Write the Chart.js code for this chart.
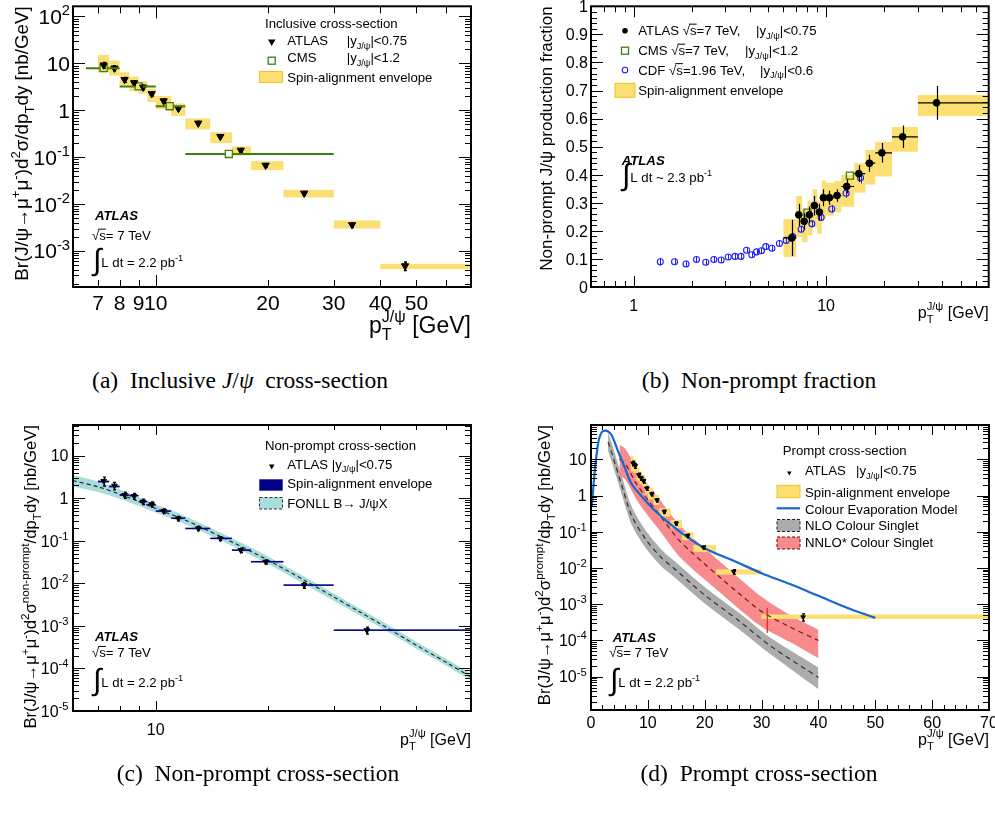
<!DOCTYPE html>
<html><head><meta charset="utf-8">
<script src="https://cdn.jsdelivr.net/npm/chart.js@4.4.1/dist/chart.umd.min.js"></script>
<style>
body{margin:0;background:#fff;width:995px;height:822px;position:relative;overflow:hidden}
canvas{position:absolute}
.cap{position:absolute;font-family:'Liberation Serif','Times New Roman',serif;font-size:23.5px;color:#000;white-space:nowrap;transform:translateX(-50%);line-height:28px}
</style></head><body>
<canvas id="ca" style="left:0;top:0" width="495" height="350"></canvas>
<canvas id="cb" style="left:495px;top:0" width="500" height="350"></canvas>
<canvas id="cc" style="left:0;top:400px" width="495" height="360"></canvas>
<canvas id="cd" style="left:495px;top:400px" width="500" height="360"></canvas>
<div class="cap" style="left:240px;top:366px">(a)&nbsp; Inclusive <i>J</i>/<i>ψ</i>&nbsp; cross-section</div>
<div class="cap" style="left:759px;top:366px">(b)&nbsp; Non-prompt fraction</div>
<div class="cap" style="left:258px;top:759px">(c)&nbsp; Non-prompt cross-section</div>
<div class="cap" style="left:759px;top:759px">(d)&nbsp; Prompt cross-section</div>
<script>
// ---------------- DATA ----------------
// (a) inclusive cross-section
const A_binLo = [7,7.5,8,8.5,9,9.5,10,11,12,14,16,18,22,30,40];
const A_binHi = [7.5,8,8.5,9,9.5,10,11,12,14,16,18,22,30,40,70];
const A_pt = [7.25,7.75,8.25,8.75,9.25,9.75,10.5,11.5,13,14.9,16.9,19.7,25,33.6,46.6];
const A_xs = [9.2,7.9,4.5,3.85,3.1,2.25,1.58,1.09,0.53,0.275,0.14,0.067,0.017,0.0036,0.00048];
const A_err = [1.3,1.0,0.55,0.45,0.35,0.25,0.17,0.11,0.05,0.025,0.013,0.006,0.0016,0.0004,0.0001];
const A_envLo = [6.46,5.5,3.39,2.54,2.25,1.51,1.06,0.76,0.39,0.2,0.108,0.053,0.0138,0.003,0.00041];
const A_envHi = [15.2,11.4,6.46,5.25,4.12,2.88,2.02,1.39,0.67,0.34,0.17,0.082,0.0201,0.00447,0.00053];
const A_cmsPt = [7.25,9.0,10.9,15.7];
const A_cmsLo = [6.5,8,10,12];
const A_cmsHi = [8,10,12,30];
const A_cmsXs = [7.9,3.23,1.22,0.117];
const A_xLabels = [7,8,9,10,20,30,40,50];
const A_yExp = [-3,-2,-1,0,1,2];
// (b) non-prompt fraction
const B_lo = [6,7,7.5,8,8.5,9,9.5,10,11,12,14,16,18,22,30];
const B_hi = [7,7.5,8,8.5,9,9.5,10,11,12,14,16,18,22,30,70];
const B_pt = [6.63,7.21,7.69,8.19,8.69,9.23,9.68,10.4,11.4,12.8,14.8,16.8,19.5,25,37.5];
const B_frac = [0.175,0.257,0.234,0.257,0.29,0.267,0.318,0.318,0.326,0.358,0.404,0.441,0.478,0.535,0.656];
const B_err = [0.065,0.04,0.03,0.03,0.035,0.03,0.03,0.025,0.022,0.025,0.03,0.03,0.035,0.04,0.06];
const B_envLo = [0.107,0.178,0.16,0.184,0.213,0.19,0.242,0.254,0.266,0.286,0.336,0.365,0.394,0.482,0.609];
const B_envHi = [0.242,0.324,0.277,0.307,0.348,0.307,0.379,0.371,0.377,0.40,0.441,0.488,0.517,0.57,0.684];
const B_cmsPt = [8.0,13.3];
const B_cmsFrac = [0.265,0.397];
const B_cdfPt = [1.375,1.63,1.87,2.12,2.37,2.61,2.85,3.1,3.36,3.61,3.86,4.11,4.35,4.61,4.86,5.23,5.72,6.2,6.71,7.42,8.43,9.42,10.7,12.7,15.1];
const B_cdfFrac = [0.09,0.09,0.082,0.098,0.088,0.098,0.096,0.107,0.109,0.109,0.131,0.115,0.125,0.129,0.144,0.138,0.155,0.166,0.18,0.206,0.225,0.248,0.278,0.334,0.389];
const B_cdfErr = [0.014,0.012,0.012,0.012,0.011,0.011,0.01,0.01,0.01,0.01,0.01,0.01,0.01,0.01,0.01,0.01,0.01,0.01,0.011,0.012,0.012,0.013,0.014,0.016,0.02];
const B_xLabels = [1,10];
const B_yLabels = ['0','0.1','0.2','0.3','0.4','0.5','0.6','0.7','0.8','0.9','1'];
// (c) non-prompt cross-section
const C_lo = [7,7.5,8,8.5,9,9.5,10,11,12,14,16,18,22,30];
const C_hi = [7.5,8,8.5,9,9.5,10,11,12,14,16,18,22,30,70];
const C_pt = [7.25,7.75,8.25,8.75,9.25,9.75,10.5,11.5,13,14.9,16.9,19.7,25,36.8];
const C_xs = [2.54,1.97,1.19,1.12,0.83,0.72,0.5,0.335,0.195,0.113,0.06,0.032,0.0091,0.00079];
const C_err = [0.6,0.4,0.2,0.18,0.12,0.1,0.06,0.04,0.022,0.012,0.007,0.0035,0.0015,0.00015];
const C_envLo = [2.35,1.8,1.14,1.1,0.8,0.67,0.485,0.33,0.19,0.111,0.059,0.0315,0.0089,0.00078];
const C_envHi = [2.6,2.0,1.24,1.2,0.87,0.74,0.515,0.35,0.2,0.117,0.062,0.033,0.0093,0.00081];
const C_fonllPt = [6,7,8,10,12,15,20,25,30,35,40,50,60,70];
const C_fonll = [2.6,1.86,1.25,0.575,0.306,0.124,0.035,0.0119,0.0048,0.0022,0.00112,0.00035,0.00014,0.000063];
const C_fonllHi = [3.5,2.45,1.6,0.72,0.38,0.152,0.043,0.0145,0.0058,0.00265,0.00135,0.00042,0.000168,0.000075];
const C_fonllLo = [1.9,1.4,0.97,0.46,0.245,0.1,0.0285,0.0097,0.0039,0.00182,0.00093,0.00029,0.000117,0.000052];
const C_xLabels = [10];
const C_yExp = [-5,-4,-3,-2,-1,0,1];
// (d) prompt cross-section
const D_lo = [7,7.5,8,8.5,9,9.5,10,11,12,14,16,18,22,30];
const D_hi = [7.5,8,8.5,9,9.5,10,11,12,14,16,18,22,30,70];
const D_pt = [7.4,7.8,8.4,8.85,9.26,9.84,10.7,11.6,12.9,15,17,19.8,25.1,37.3];
const D_xs = [7.8,6.6,3.7,3.0,2.5,1.58,1.1,0.75,0.36,0.17,0.078,0.037,0.0079,0.00044];
const D_err = [1.2,1.0,0.5,0.4,0.3,0.2,0.13,0.08,0.04,0.018,0.008,0.004,0.0012,0.0001];
const D_envLo = [4.6,4.2,2.5,2.1,1.8,1.05,0.78,0.55,0.26,0.124,0.059,0.028,0.0066,0.00039];
const D_envHi = [12.4,10,5.8,4.6,3.7,2.3,1.6,1.05,0.45,0.21,0.098,0.043,0.0092,0.00052];
const D_cemPt = [0.15,0.6,1.3,2.5,3.6,4.8,6,7,9,11,14,17,20,25,30,35,40,45,50];
const D_cem = [0.5,3.7,30,62,47,16,5.6,2.3,0.93,0.42,0.16,0.07,0.035,0.016,0.0072,0.0036,0.0017,0.0008,0.00042];
const D_nloPt = [3,3.6,5.4,7.1,9.5,12.4,14.2,20,25.9,31.7,40];
const D_nlo = [30,16,1.95,0.29,0.066,0.019,0.011,0.0018,0.00036,0.000068,0.0000095];
const D_nloHi = [55,29,3.5,0.52,0.115,0.032,0.018,0.003,0.0006,0.000115,0.000018];
const D_nloLo = [17,9,1.1,0.165,0.038,0.011,0.0064,0.00105,0.00021,0.00004,0.0000045];
const D_nnloPt = [5,6,8,10,12,15.3,18,20,23,26,30,35,40];
const D_nnlo = [10,7.6,2.1,0.76,0.3,0.063,0.0245,0.0129,0.005,0.002,0.00063,0.000234,0.0001];
const D_nnloHi = [25,20,5.6,2.0,0.8,0.17,0.066,0.035,0.0135,0.0053,0.0016,0.0005,0.000195];
const D_nnloLo = [3.5,2.8,0.78,0.28,0.112,0.023,0.009,0.0048,0.0019,0.00075,0.00024,0.00009,0.000032];
const D_edgePt = [31,31];
const D_edgeVal = [0.00078,0.00016];
const D_xLabels = [0,10,20,30,40,50,60,70];
const D_yExp = [-5,-4,-3,-2,-1,0,1];

// ---------------- helpers ----------------
const FAM = "'Liberation Sans', Arial, Helvetica, sans-serif";
const YEL = '#fbdf73';
const TEAL = '#a9dcdc';
const GREY = '#acacac';
const RED = '#f78a8c';
const NAVY = '#000088';
const GREEN = '#3f7f10';

function rich(ctx, parts, x, y, size, align, rot, color) {
  const its = parts.map(p => typeof p === 'string' ? [p, ''] : p);
  const fnt = (s, b) => (b ? 'italic bold ' : '') + s.toFixed(1) + 'px ' + FAM;
  let w = 0; const ms = [];
  for (const it of its) {
    const m = it[it.length - 1]; let wi;
    if (m === '_^') { ctx.font = fnt(size * 0.7); wi = Math.max(ctx.measureText(it[0]).width, ctx.measureText(it[1]).width); }
    else { const sz = (m === '^' || m === '_') ? size * 0.7 : m === 'I' ? size * 2.3 : size; ctx.font = fnt(sz, m === 'B'); wi = ctx.measureText(it[0]).width; }
    ms.push(wi); w += wi;
  }
  ctx.save(); ctx.translate(x, y); if (rot) ctx.rotate(rot);
  ctx.fillStyle = color || '#000'; ctx.textAlign = 'left'; ctx.textBaseline = 'alphabetic';
  let cx = align === 'right' ? -w : align === 'center' ? -w / 2 : 0;
  its.forEach((it, i) => {
    const m = it[it.length - 1];
    if (m === '_^') { ctx.font = fnt(size * 0.7); ctx.fillText(it[0], cx, size * 0.32); ctx.fillText(it[1], cx, -size * 0.48); }
    else if (m === '^') { ctx.font = fnt(size * 0.7); ctx.fillText(it[0], cx, -size * 0.42); }
    else if (m === '_') { ctx.font = fnt(size * 0.7); ctx.fillText(it[0], cx, size * 0.3); }
    else if (m === 'I') { ctx.font = fnt(size * 2.3); ctx.fillText(it[0], cx, size * 0.25); }
    else {
      ctx.font = fnt(size, m === 'B'); ctx.fillText(it[0], cx, 0);
      if (m === 'o') ctx.fillRect(cx - 1, -size * 0.86, ms[i] + 1, Math.max(1, size * 0.07));
    }
    cx += ms[i];
  });
  ctx.restore(); return w;
}
function logTicks(min, max, maj, mnr) {
  const out = [];
  for (let d = Math.floor(Math.log10(min)); d <= Math.ceil(Math.log10(max)); d++)
    for (let m = 1; m <= 9; m++) { const v = m * Math.pow(10, d); if (v >= min * 0.999 && v <= max * 1.001) out.push([v, m === 1 ? maj : mnr]); }
  return out;
}
function linTicks(min, max, step, sub, maj, mnr) {
  const out = []; const n = Math.round((max - min) / (step / sub));
  for (let i = 0; i <= n; i++) out.push([min + i * step / sub, i % sub === 0 ? maj : mnr]);
  return out;
}
function frame(ch, xt, yt) {
  const ctx = ch.ctx, a = ch.chartArea, X = ch.scales.x, Y = ch.scales.y;
  ctx.save(); ctx.strokeStyle = '#000'; ctx.lineWidth = 1; ctx.beginPath();
  for (const [v, l] of xt) { const p = Math.round(X.getPixelForValue(v)) + 0.5; if (p < a.left + 1 || p > a.right - 1) continue; ctx.moveTo(p, a.bottom); ctx.lineTo(p, a.bottom - l); ctx.moveTo(p, a.top); ctx.lineTo(p, a.top + l); }
  for (const [v, l] of yt) { const p = Math.round(Y.getPixelForValue(v)) + 0.5; if (p < a.top + 1 || p > a.bottom - 1) continue; ctx.moveTo(a.left, p); ctx.lineTo(a.left + l, p); ctx.moveTo(a.right, p); ctx.lineTo(a.right - l, p); }
  ctx.stroke(); ctx.lineWidth = 2; ctx.strokeRect(a.left, a.top, a.right - a.left, a.bottom - a.top); ctx.restore();
}
function clip(ch) { const a = ch.chartArea; ch.ctx.beginPath(); ch.ctx.rect(a.left, a.top, a.right - a.left, a.bottom - a.top); ch.ctx.clip(); }
function boxes(ch, lo, hi, vlo, vhi, fill, minH) {
  const ctx = ch.ctx, X = ch.scales.x, Y = ch.scales.y;
  ctx.save(); clip(ch); ctx.fillStyle = fill;
  for (let i = 0; i < lo.length; i++) {
    const x1 = X.getPixelForValue(lo[i]), x2 = X.getPixelForValue(hi[i]);
    let y1 = Y.getPixelForValue(vhi[i]), y2 = Y.getPixelForValue(vlo[i]);
    if (minH && y2 - y1 < minH) { const c = (y1 + y2) / 2; y1 = c - minH / 2; y2 = c + minH / 2; }
    ctx.fillRect(x1, y1, x2 - x1, y2 - y1);
  }
  ctx.restore();
}
function errV(ch, xs, ys, err, color, cap, lw) {
  const ctx = ch.ctx, X = ch.scales.x, Y = ch.scales.y;
  ctx.save(); clip(ch); ctx.strokeStyle = color; ctx.lineWidth = lw || 1; ctx.beginPath();
  for (let i = 0; i < xs.length; i++) {
    const x = Math.round(X.getPixelForValue(xs[i])) + 0.5;
    const y1 = Y.getPixelForValue(Math.max(ys[i] - err[i], 1e-9)), y2 = Y.getPixelForValue(ys[i] + err[i]);
    ctx.moveTo(x, y1); ctx.lineTo(x, y2);
    if (cap) { ctx.moveTo(x - cap, y1); ctx.lineTo(x + cap, y1); ctx.moveTo(x - cap, y2); ctx.lineTo(x + cap, y2); }
  }
  ctx.stroke(); ctx.restore();
}
function errH(ch, ys, lo, hi, xs, color, lw, gap) {
  const ctx = ch.ctx, X = ch.scales.x, Y = ch.scales.y;
  ctx.save(); clip(ch); ctx.strokeStyle = color; ctx.lineWidth = lw || 1; ctx.beginPath();
  for (let i = 0; i < ys.length; i++) {
    const y = Y.getPixelForValue(ys[i]), x1 = X.getPixelForValue(lo[i]), x2 = X.getPixelForValue(hi[i]);
    if (gap) { const xc = X.getPixelForValue(xs[i]); ctx.moveTo(x1, y); ctx.lineTo(xc - gap, y); ctx.moveTo(xc + gap, y); ctx.lineTo(x2, y); }
    else { ctx.moveTo(x1, y); ctx.lineTo(x2, y); }
  }
  ctx.stroke(); ctx.restore();
}
function xLabels(ch, vals, base, size) {
  const X = ch.scales.x;
  vals.forEach(v => rich(ch.ctx, [String(v)], X.getPixelForValue(v), base, size, 'center'));
}
function yLabelsExp(ch, exps, xr, size) {
  const Y = ch.scales.y;
  exps.forEach(e => {
    const p = Y.getPixelForValue(Math.pow(10, e)) + size * 0.36;
    const parts = e === 0 ? ['1'] : e === 1 ? ['10'] : ['10', [String(e), '^']];
    rich(ch.ctx, parts, xr, p, size, 'right');
  });
}
function pts(xs, ys, style) { return Object.assign({ type: 'scatter', data: xs.map((x, i) => ({ x, y: ys[i] })) }, style); }
function curve(xs, ys, style) { return Object.assign({ type: 'line', data: xs.map((x, i) => ({ x, y: ys[i] })), pointRadius: 0, fill: false, borderWidth: 0, borderColor: 'rgba(0,0,0,0)' }, style); }
function mk(id, pad, xs, ys, datasets, plugin) {
  return new Chart(document.getElementById(id), {
    type: 'scatter',
    data: { datasets },
    options: {
      responsive: false, animation: false, events: [],
      layout: { padding: pad },
      plugins: { legend: { display: false }, tooltip: { enabled: false }, title: { display: false } },
      scales: { x: Object.assign({ display: false }, xs), y: Object.assign({ display: false }, ys) }
    },
    plugins: [plugin]
  });
}
const JPSI = ['J/ψ', '_'];
const XT = ['p', ['T', 'J/ψ', '_^'], ' [GeV]'];
function sqrtS(ctx, x, y0) { rich(ctx, ['√', ['s', 'o'], '= 7 TeV'], x, y0, 13.2, 'left'); }
function legBox(ctx, x, y, w, h, fill, stroke, dash) {
  ctx.save(); ctx.fillStyle = fill; ctx.fillRect(x, y, w, h);
  if (stroke) { ctx.strokeStyle = stroke; ctx.lineWidth = 1; if (dash) ctx.setLineDash(dash); ctx.strokeRect(x, y, w, h); }
  ctx.restore();
}

// ---------------- (a) ----------------
mk('ca', { left: 73, top: 3, right: 24, bottom: 63 },
  { type: 'logarithmic', min: 6, max: 70 }, { type: 'logarithmic', min: 1.7e-4, max: 165 },
  [
    pts(A_pt, A_xs, { pointStyle: 'triangle', rotation: 180, pointRadius: 4.2, backgroundColor: '#000', borderColor: '#000', borderWidth: 1 }),
    pts(A_cmsPt, A_cmsXs, { pointStyle: 'rect', pointRadius: 5, backgroundColor: 'rgba(0,0,0,0)', borderColor: GREEN, borderWidth: 1.3 })
  ],
  {
    id: 'pa',
    beforeDatasetsDraw(ch) { boxes(ch, A_binLo, A_binHi, A_envLo, A_envHi, YEL); },
    afterDatasetsDraw(ch) {
      errV(ch, A_pt, A_xs, A_err, '#000', 1.5, 1.3);
      errH(ch, A_cmsXs, A_cmsLo, A_cmsHi, A_cmsPt, GREEN, 2, 4);
    },
    afterDraw(ch) {
      const ctx = ch.ctx, a = ch.chartArea;
      frame(ch, logTicks(6, 70, 12, 7), logTicks(1.7e-4, 165, 12, 6));
      xLabels(ch, A_xLabels, a.bottom + 22.5, 21);
      yLabelsExp(ch, A_yExp, a.left - 3, 21);
      rich(ctx, ['Br(J/ψ→μ', ['+', '^'], 'μ', ['-', '^'], ')d', ['2', '^'], 'σ/dp', ['T', '_'], 'dy [nb/GeV]'], 28, a.top, 18.8, 'right', -Math.PI / 2);
      rich(ctx, XT, a.right, 333, 23, 'right');
      rich(ctx, ['Inclusive cross-section'], 265, 27.5, 13.2, 'left');
      ctx.save(); ctx.fillStyle = '#000'; ctx.beginPath(); ctx.moveTo(268, 39.5); ctx.lineTo(275.5, 39.5); ctx.lineTo(271.7, 46); ctx.closePath(); ctx.fill(); ctx.restore();
      rich(ctx, ['ATLAS'], 287.3, 45, 13.2, 'left');
      rich(ctx, ['|y', JPSI, '|<0.75'], 346.7, 45, 13.2, 'left');
      ctx.save(); ctx.strokeStyle = GREEN; ctx.lineWidth = 1.3; ctx.strokeRect(268.2, 57.2, 7, 7); ctx.restore();
      rich(ctx, ['CMS'], 287.3, 62, 13.2, 'left');
      rich(ctx, ['|y', JPSI, '|<1.2'], 346.7, 62, 13.2, 'left');
      legBox(ctx, 259.5, 71.5, 23, 11, YEL, '#f0c419');
      rich(ctx, ['Spin-alignment envelope'], 287.3, 81.5, 13.2, 'left');
      rich(ctx, [['ATLAS', 'B']], 95, 219.5, 13.2, 'left');
      sqrtS(ctx, 92, 240);
      rich(ctx, [['∫', 'I'], 'L dt = 2.2 pb', ['-1', '^']], 93, 267, 13.2, 'left');
    }
  });

// ---------------- (b) ----------------
mk('cb', { left: 96, top: 3, right: 6, bottom: 63 },
  { type: 'logarithmic', min: 0.6, max: 70 }, { type: 'linear', min: 0, max: 1 },
  [
    pts(B_pt, B_frac, { pointStyle: 'circle', pointRadius: 3.4, backgroundColor: '#000', borderColor: '#000', borderWidth: 1 }),
    pts(B_cmsPt, B_cmsFrac, { pointStyle: 'rect', pointRadius: 5, backgroundColor: 'rgba(0,0,0,0)', borderColor: GREEN, borderWidth: 1.3 }),
    pts(B_cdfPt, B_cdfFrac, { pointStyle: 'circle', pointRadius: 3, backgroundColor: 'rgba(0,0,0,0)', borderColor: '#1f1fff', borderWidth: 1.1 })
  ],
  {
    id: 'pb',
    beforeDatasetsDraw(ch) {
      boxes(ch, B_lo, B_hi, B_envLo, B_envHi, YEL);
      errV(ch, B_cdfPt, B_cdfFrac, B_cdfErr, '#1f1fff', 0, 1);
    },
    afterDatasetsDraw(ch) {
      errV(ch, B_pt, B_frac, B_err, '#000', 0, 1.2);
      errH(ch, B_frac, B_lo, B_hi, B_pt, '#000', 1.2, 0);
    },
    afterDraw(ch) {
      const ctx = ch.ctx, a = ch.chartArea;
      frame(ch, logTicks(0.6, 70, 11, 6), linTicks(0, 1, 0.1, 5, 12, 6));
      xLabels(ch, B_xLabels, 311, 16);
      const Y = ch.scales.y;
      B_yLabels.forEach((t, i) => rich(ctx, [t], a.left - 3, Y.getPixelForValue(i / 10) + 5.8, 16, 'right'));
      rich(ctx, ['Non-prompt J/ψ production fraction'], 56.7, a.top, 17, 'right', -Math.PI / 2);
      rich(ctx, XT, a.right, 318, 16, 'right');
      ctx.save(); ctx.fillStyle = '#000'; ctx.beginPath(); ctx.arc(130, 30.7, 2.8, 0, 7); ctx.fill(); ctx.restore();
      rich(ctx, ['ATLAS ', '√', ['s', 'o'], '=7 TeV,'], 143.3, 35, 13.2, 'left');
      rich(ctx, ['|y', JPSI, '|<0.75'], 261, 35, 13.2, 'left');
      ctx.save(); ctx.strokeStyle = GREEN; ctx.lineWidth = 1.3; ctx.strokeRect(126.5, 47.2, 7, 7); ctx.restore();
      rich(ctx, ['CMS ', '√', ['s', 'o'], '=7 TeV,'], 143.3, 55, 13.2, 'left');
      rich(ctx, ['|y', JPSI, '|<1.2'], 250, 55, 13.2, 'left');
      ctx.save(); ctx.strokeStyle = '#1f1fff'; ctx.lineWidth = 1.1; ctx.beginPath(); ctx.arc(130, 70, 2.8, 0, 7); ctx.stroke(); ctx.restore();
      rich(ctx, ['CDF ', '√', ['s', 'o'], '=1.96 TeV,'], 143.3, 74.5, 13.2, 'left');
      rich(ctx, ['|y', JPSI, '|<0.6'], 265, 74.5, 13.2, 'left');
      legBox(ctx, 120, 83.3, 20, 14, YEL, '#f0c419');
      rich(ctx, ['Spin-alignment envelope'], 143.3, 95, 13.2, 'left');
      rich(ctx, [['ATLAS', 'B']], 126.7, 165, 13.2, 'left');
      rich(ctx, [['∫', 'I'], 'L dt ~ 2.3 pb', ['-1', '^']], 127, 181.7, 13.2, 'left');
    }
  });

// ---------------- (c) ----------------
mk('cc', { left: 73, top: 25, right: 24, bottom: 49 },
  { type: 'logarithmic', min: 6, max: 70 }, { type: 'logarithmic', min: 1e-5, max: 52.7 },
  [
    pts(C_pt, C_xs, { pointStyle: 'triangle', rotation: 180, pointRadius: 3.2, backgroundColor: '#000', borderColor: '#000', borderWidth: 1 }),
    curve(C_fonllPt, C_fonll, { borderColor: '#222', borderWidth: 1.1, borderDash: [4, 3], tension: 0.3 }),
    curve(C_fonllPt, C_fonllHi, { tension: 0.3 }),
    curve(C_fonllPt, C_fonllLo, { tension: 0.3, fill: '-1', backgroundColor: TEAL })
  ],
  {
    id: 'pc',
    afterDatasetDraw(ch, args) {
      if (args.index === 1) boxes(ch, C_lo, C_hi, C_envLo, C_envHi, NAVY, 1.6);
    },
    afterDatasetsDraw(ch) { errV(ch, C_pt, C_xs, C_err, '#000', 1.5, 1.3); },
    afterDraw(ch) {
      const ctx = ch.ctx, a = ch.chartArea;
      frame(ch, logTicks(6, 70, 10, 5), logTicks(1e-5, 52.7, 12, 6));
      xLabels(ch, C_xLabels, 335, 16);
      yLabelsExp(ch, C_yExp, a.left - 4.5, 16);
      rich(ctx, ['Br(J/ψ→μ', ['+', '^'], 'μ', ['-', '^'], ')d', ['2', '^'], 'σ', ['non-prompt', '^'], '/dp', ['T', '_'], 'dy [nb/GeV]'], 36, a.top, 16.7, 'right', -Math.PI / 2);
      rich(ctx, XT, a.right, 345, 16, 'right');
      rich(ctx, ['Non-prompt cross-section'], 265, 50, 13.2, 'left');
      ctx.save(); ctx.fillStyle = '#000'; ctx.beginPath(); ctx.moveTo(269, 64.5); ctx.lineTo(274.5, 64.5); ctx.lineTo(271.7, 69.5); ctx.closePath(); ctx.fill(); ctx.restore();
      rich(ctx, ['ATLAS |y', JPSI, '|<0.75'], 287.3, 68.5, 13.2, 'left');
      legBox(ctx, 259.3, 79.3, 23.4, 11.4, NAVY);
      rich(ctx, ['Spin-alignment envelope'], 287.3, 88, 13.2, 'left');
      legBox(ctx, 259.5, 97.5, 23, 11.5, TEAL, '#333', [3, 2]);
      rich(ctx, ['FONLL B→ J/ψX'], 287.3, 107.5, 13.2, 'left');
      rich(ctx, [['ATLAS', 'B']], 95, 241, 13.2, 'left');
      sqrtS(ctx, 92, 257.3);
      rich(ctx, [['∫', 'I'], 'L dt = 2.2 pb', ['-1', '^']], 93, 286.7, 13.2, 'left');
    }
  });

// ---------------- (d) ----------------
mk('cd', { left: 96, top: 25, right: 6, bottom: 50 },
  { type: 'linear', min: 0, max: 70 }, { type: 'logarithmic', min: 1.2e-6, max: 88.6 },
  [
    pts(D_pt, D_xs, { pointStyle: 'triangle', rotation: 180, pointRadius: 2.6, backgroundColor: '#000', borderColor: '#000', borderWidth: 1 }),
    curve(D_cemPt, D_cem, { borderColor: '#1468cf', borderWidth: 2.2, cubicInterpolationMode: 'monotone' }),
    curve(D_edgePt, D_edgeVal, { borderColor: '#e8202a', borderWidth: 1.2 }),
    curve(D_nnloPt, D_nnlo, { borderColor: '#8a1010', borderWidth: 1.2, borderDash: [5, 4], tension: 0.3 }),
    curve(D_nnloPt, D_nnloHi, { tension: 0.3 }),
    curve(D_nnloPt, D_nnloLo, { tension: 0.3, fill: '-1', backgroundColor: RED }),
    curve(D_nloPt, D_nlo, { borderColor: '#333', borderWidth: 1.2, borderDash: [5, 4], tension: 0.3 }),
    curve(D_nloPt, D_nloHi, { tension: 0.3 }),
    curve(D_nloPt, D_nloLo, { tension: 0.3, fill: '-1', backgroundColor: GREY })
  ],
  {
    id: 'pd',
    afterDatasetDraw(ch, args) { if (args.index === 4) boxes(ch, D_lo, D_hi, D_envLo, D_envHi, YEL); },
    afterDatasetsDraw(ch) { errV(ch, D_pt, D_xs, D_err, '#000', 1.5, 1.1); },
    afterDraw(ch) {
      const ctx = ch.ctx, a = ch.chartArea;
      frame(ch, linTicks(0, 70, 10, 5, 10, 5), logTicks(1.2e-6, 88.6, 12, 6));
      xLabels(ch, D_xLabels, 328, 16);
      yLabelsExp(ch, D_yExp, a.left - 4.3, 16);
      rich(ctx, ['Br(J/ψ→μ', ['+', '^'], 'μ', ['-', '^'], ')d', ['2', '^'], 'σ', ['prompt', '^'], '/dp', ['T', '_'], 'dy [nb/GeV]'], 55, a.top, 16.7, 'right', -Math.PI / 2);
      rich(ctx, XT, a.right, 345, 16, 'right');
      rich(ctx, ['Prompt cross-section'], 287.7, 55, 13.2, 'left');
      ctx.save(); ctx.fillStyle = '#000'; ctx.beginPath(); ctx.moveTo(292, 71.5); ctx.lineTo(296.6, 71.5); ctx.lineTo(294.3, 75.5); ctx.closePath(); ctx.fill(); ctx.restore();
      rich(ctx, ['ATLAS'], 310, 75, 13.2, 'left');
      rich(ctx, ['|y', JPSI, '|<0.75'], 361, 75, 13.2, 'left');
      legBox(ctx, 282, 85.3, 23, 12.4, YEL, '#f0c419');
      rich(ctx, ['Spin-alignment envelope'], 310, 97, 13.2, 'left');
      ctx.save(); ctx.strokeStyle = '#1468cf'; ctx.lineWidth = 2.2; ctx.beginPath(); ctx.moveTo(281.7, 108.3); ctx.lineTo(305, 108.3); ctx.stroke(); ctx.restore();
      rich(ctx, ['Colour Evaporation Model'], 310, 113.5, 13.2, 'left');
      legBox(ctx, 282, 119.5, 23, 12, GREY, '#222', [3, 2]);
      rich(ctx, ['NLO Colour Singlet'], 310, 130, 13.2, 'left');
      legBox(ctx, 282, 137, 23, 12, RED, '#7a0000', [3, 2]);
      rich(ctx, ['NNLO* Colour Singlet'], 310, 147, 13.2, 'left');
      rich(ctx, [['ATLAS', 'B']], 117.7, 241.7, 13.2, 'left');
      sqrtS(ctx, 114.3, 257.3);
      rich(ctx, [['∫', 'I'], 'L dt = 2.2 pb', ['-1', '^']], 115, 286.7, 13.2, 'left');
    }
  });
</script>
</body></html>
